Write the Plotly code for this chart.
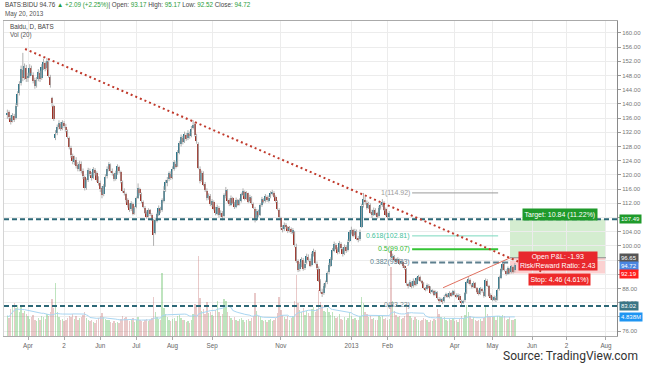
import plotly.graph_objects as go
import pandas as pd

# ---------------- data (daily bars, index 0 = Apr 2 2012) ----------------
first_index = -12
opens = [136.8,137.6,136.0,135.2,136.6,136.0,139.8,143.0,145.9,149.6,147.5,150.2,
 147.2,148.0,150.0,148.2,146.8,145.0,147.0,148.6,147.4,150.2,151.5,150.1,151.8,147.6,
 141.6,139.4,130.4,131.8,133.6,134.4,133.2,134.6,133.6,132.4,130.4,127.6,125.2,
 123.6,124.2,122.8,121.6,123.0,121.2,119.4,116.4,118.6,121.2,120.0,119.2,121.4,120.4,118.8,117.6,116.2,114.6,
 117.0,119.6,121.6,122.8,121.0,120.2,118.9,120.4,122.2,120.8,118.0,115.4,114.6,
 112.8,111.4,110.4,111.8,109.2,111.0,113.6,116.0,114.6,112.4,110.8,109.6,108.4,110.0,108.8,107.2,103.6,107.0,108.8,110.4,
 110.0,112.6,115.8,117.6,118.8,120.2,119.4,121.6,123.2,122.6,126.2,128.6,130.4,129.4,131.2,130.4,131.6,131.0,133.2,
 134.4,131.0,128.8,121.6,118.6,120.4,117.4,115.6,113.6,114.0,111.6,112.4,110.4,109.0,110.8,108.8,109.2,
 108.4,114.0,115.6,112.8,111.6,113.4,112.0,111.0,112.8,111.8,112.6,114.4,115.2,113.4,114.8,112.6,113.6,111.8,110.4,107.4,109.6,108.8,111.4,113.0,112.6,113.8,112.6,113.8,114.6,115.0,113.8,112.4,110.2,
 107.8,105.0,104.8,105.8,105.2,104.4,104.8,103.6,103.8,99.8,95.6,93.4,94.6,96.0,93.8,95.2,97.0,95.8,94.6,97.6,98.4,95.0,93.6,90.0,87.0,86.6,88.6,
 89.8,92.6,94.4,96.4,98.6,100.2,99.0,98.2,100.6,99.2,97.8,99.6,98.8,101.4,103.6,104.4,103.0,104.0,102.2,101.8,105.4,111.4,113.0,
 112.2,110.8,111.6,109.6,108.8,110.0,109.2,108.4,110.6,111.4,112.2,110.4,109.0,108.2,
 98.6,96.6,97.0,96.2,95.6,96.0,95.2,95.4,94.0,93.6,89.2,88.8,89.6,88.6,90.0,89.2,90.6,91.2,90.0,89.4,88.0,87.8,88.8,88.2,87.0,87.2,86.4,86.8,85.0,84.6,84.8,
 84.4,85.8,86.2,85.6,86.6,86.2,87.0,86.2,85.8,86.0,84.4,84.0,84.6,86.8,89.6,90.4,89.0,88.6,89.4,88.0,87.2,86.6,87.8,87.0,86.0,90.2,88.6,86.2,85.4,84.6,85.4,84.8,87.8,91.0,93.2,94.8,93.0,92.2,93.6,92.6,94.0,93.17]
highs = [138.4,138.2,136.8,137.4,137.2,140.2,143.6,146.4,150.8,154.4,151.4,151.0,
 148.8,151.2,150.8,148.9,147.4,147.6,149.8,149.4,151.2,152.8,152.0,153.0,152.4,148.2,
 142.0,139.8,132.6,134.2,135.4,134.9,135.4,135.2,134.4,132.8,130.8,128.2,126.0,
 125.4,125.0,123.6,124.0,123.8,121.8,119.8,119.0,122.0,121.8,120.8,122.2,121.9,121.0,119.6,118.4,116.8,117.4,
 120.2,122.4,123.6,123.2,121.8,120.6,121.2,123.0,122.6,121.2,118.4,116.2,115.0,
 113.4,112.0,112.6,112.2,111.2,113.9,117.6,116.4,115.0,112.8,111.2,110.0,110.6,110.4,109.2,107.6,107.8,109.4,111.4,111.0,
 113.4,116.8,118.6,119.4,121.0,121.0,122.4,124.2,123.8,127.0,129.6,131.4,131.0,132.2,131.8,132.6,132.2,133.8,135.4,
 134.8,131.6,129.2,122.4,121.2,121.0,118.0,116.2,114.8,114.6,113.2,112.8,111.0,111.6,111.2,110.0,109.8,
 114.8,116.6,116.0,113.4,114.2,113.8,112.4,113.6,113.2,113.4,115.0,116.2,115.6,115.4,115.0,114.4,114.0,112.2,111.0,110.4,110.2,112.0,113.8,113.4,114.6,114.2,114.2,115.4,115.8,115.4,114.2,112.8,110.6,
 108.2,105.8,106.6,106.4,105.6,105.6,105.2,105.0,104.2,100.6,96.2,95.4,96.8,96.6,95.6,97.8,97.6,96.4,98.2,99.2,98.8,95.6,94.2,90.6,87.8,89.4,90.2,
 92.8,95.2,96.8,99.4,101.2,100.8,99.6,101.4,101.0,99.6,100.4,100.2,101.8,104.4,105.4,104.8,104.8,104.6,102.8,104.6,111.8,114.92,113.8,
 112.8,112.4,112.0,110.2,110.8,110.6,109.6,111.2,112.2,113.2,112.6,110.8,109.4,109.8,
 99.0,97.8,97.4,96.6,96.8,96.4,96.0,95.8,94.6,93.8,89.6,90.4,90.0,90.8,90.4,91.2,91.8,91.6,90.4,89.8,88.4,89.4,89.2,88.6,87.8,87.6,87.4,87.2,85.6,85.4,85.2,
 86.2,86.8,86.6,87.2,87.0,87.6,87.4,86.6,86.6,86.4,84.8,84.8,87.0,90.2,91.2,90.8,89.4,90.0,89.8,88.4,87.6,88.4,88.2,87.4,90.8,90.6,89.0,86.6,85.8,86.0,85.8,88.0,91.6,93.8,95.5,95.2,93.4,94.2,93.8,94.6,94.4,95.17]
lows = [135.8,135.6,134.2,134.8,134.9,135.6,139.2,142.4,145.2,146.4,146.8,146.2,
 146.2,147.4,147.9,145.8,144.3,144.6,146.4,146.2,146.8,149.6,149.2,149.6,147.4,144.6,
 139.2,135.2,129.8,131.2,132.8,132.4,132.6,133.2,132.0,130.2,127.2,124.8,123.0,
 122.8,121.8,121.0,121.0,120.4,118.8,115.6,115.8,118.0,119.6,118.4,118.8,119.8,118.0,117.0,115.2,113.4,114.0,
 116.6,119.0,121.0,120.6,119.8,118.2,118.4,120.0,120.4,117.6,115.0,114.2,112.2,
 110.8,109.6,109.8,108.6,108.8,110.6,113.2,114.2,112.0,110.6,109.0,107.6,108.0,108.4,107.0,100.0,103.2,106.6,108.4,109.2,
 109.6,112.2,115.2,116.8,118.2,118.6,118.8,121.2,121.8,122.2,125.8,128.0,128.6,129.0,129.6,129.8,130.2,130.6,132.8,
 130.8,128.8,121.6,117.6,118.0,116.8,115.2,112.8,113.0,111.2,111.0,110.0,108.6,108.6,108.0,108.2,107.2,
 108.0,113.4,112.2,111.2,111.2,111.8,110.4,110.6,111.2,111.4,112.2,114.0,112.8,113.0,112.0,112.2,111.6,110.4,106.6,107.0,108.2,108.4,111.0,112.0,112.2,112.4,112.2,113.4,114.2,113.6,112.2,110.0,107.8,
 104.6,103.8,104.2,104.8,103.6,103.8,103.4,103.2,99.6,95.2,92.6,92.8,94.0,93.0,93.2,94.8,95.6,94.0,94.2,97.0,94.8,93.2,89.8,86.6,85.6,86.2,88.2,
 89.2,92.0,94.0,96.0,98.2,98.8,97.6,97.8,99.0,97.0,97.4,98.0,98.4,101.0,103.2,102.4,102.6,101.6,101.0,101.4,105.0,110.8,111.6,
 110.2,110.4,109.0,107.8,108.4,108.6,107.6,108.0,110.2,111.0,109.8,108.4,107.4,107.8,
 96.2,96.2,95.6,95.0,95.2,94.6,94.8,93.8,93.2,88.8,88.0,88.4,88.0,88.2,88.6,88.8,90.2,89.8,89.2,87.8,87.2,87.4,88.0,86.4,86.6,85.8,86.0,84.8,83.8,84.2,83.6,
 84.0,85.4,85.4,85.2,85.6,85.8,86.0,85.2,85.4,84.2,83.23,83.6,84.2,86.4,89.2,88.8,88.0,88.2,88.0,86.6,86.0,86.2,86.8,85.4,85.6,88.4,85.6,84.8,84.4,84.4,84.2,84.6,87.4,90.6,92.8,92.8,91.6,91.8,92.0,92.2,92.2,92.52]
closes = [137.5,136.2,135.0,136.8,135.6,139.5,142.8,145.6,149.8,147.2,150.6,146.9,
 147.8,150.2,148.6,146.5,145.2,146.8,148.9,147.0,150.5,151.8,149.9,152.1,148.0,145.3,
 140.2,135.8,131.5,133.4,134.6,133.0,134.8,133.9,132.6,130.8,127.9,125.6,123.8,
 124.5,122.6,121.8,123.2,121.0,119.8,116.2,118.5,121.4,120.2,119.0,121.6,120.5,118.6,117.8,116.0,114.2,116.8,
 119.5,121.8,123.0,121.2,120.4,118.8,120.6,122.4,121.0,118.2,115.6,114.8,112.9,
 111.5,110.2,112.0,109.1,110.8,113.5,116.2,114.8,112.6,111.0,109.4,108.2,110.1,108.9,107.5,103.2,107.2,108.9,110.6,109.8,
 112.8,115.6,117.9,118.6,120.4,119.2,121.8,123.5,122.2,126.4,128.9,130.6,129.2,131.5,130.2,131.8,130.9,133.0,134.2,
 131.2,129.6,122.0,118.4,120.6,117.2,115.8,113.4,114.2,111.8,112.6,110.5,109.2,111.0,108.6,109.4,108.0,
 114.2,115.8,112.6,111.8,113.6,112.2,110.9,113.0,111.6,112.8,114.6,115.4,113.2,114.9,112.4,113.8,112.0,110.8,107.2,109.8,108.6,111.6,113.2,112.4,114.0,112.8,113.6,114.8,115.2,113.9,112.6,110.4,108.2,
 105.2,104.6,106.0,105.4,104.2,105.0,103.8,104.6,100.2,95.8,93.2,94.8,96.2,93.6,95.0,97.2,96.0,94.4,97.8,98.6,95.2,93.8,90.2,87.2,86.4,88.8,89.6,
 92.4,94.6,96.2,98.8,100.4,99.2,98.0,100.8,99.4,97.6,99.8,98.6,101.2,103.8,104.6,102.8,104.2,102.0,101.6,104.0,111.2,113.2,112.4,
 110.6,111.8,109.4,108.6,110.2,109.0,108.2,110.8,111.6,112.4,110.2,108.8,108.0,109.2,
 96.8,97.2,96.0,95.4,96.2,95.0,95.6,94.2,93.8,89.4,88.6,89.8,88.4,90.2,89.0,90.8,91.4,90.2,89.6,88.2,87.6,89.0,88.4,86.8,87.4,86.2,87.0,85.2,84.4,85.0,84.2,
 85.6,86.4,85.8,86.8,86.0,87.2,86.4,85.6,86.2,84.6,83.8,84.4,86.6,89.8,90.6,89.2,88.4,89.6,88.2,87.0,86.4,88.0,87.2,85.8,90.4,88.8,86.0,85.2,84.8,85.6,84.6,87.6,91.2,93.4,95.0,93.2,92.0,93.8,92.4,94.2,92.63,94.72]
volumes_m = [5.2,4.6,6.8,7.8,8.4,7.2,8.0,6.2,7.4,5.8,6.4,5.6,
 5.0,4.4,4.8,5.4,4.2,3.8,4.6,4.0,5.2,4.8,4.4,5.6,5.2,6.0,
 9.4,7.2,13.5,6.0,4.8,4.2,4.4,3.8,4.0,4.6,5.0,4.8,5.6,
 4.4,5.2,4.0,4.6,4.8,5.4,6.0,4.6,4.2,3.8,4.0,3.6,3.4,4.2,4.6,5.0,5.8,4.8,
 4.4,4.0,4.2,3.6,3.4,3.8,3.2,3.6,3.4,4.4,5.0,4.6,4.8,
 4.2,3.8,4.0,4.6,3.6,4.0,4.8,4.2,3.8,3.6,4.0,4.4,3.8,4.2,4.6,10.0,6.2,4.8,4.4,4.0,
 16.0,7.2,5.6,4.8,4.2,3.8,4.4,4.6,3.8,5.0,5.4,4.6,4.0,4.2,3.6,3.8,3.4,4.2,5.6,
 8.2,7.4,20.4,9.8,6.4,6.8,5.6,8.6,5.8,6.2,5.4,5.0,6.6,9.0,6.0,5.2,5.6,
 9.5,8.8,6.2,5.0,4.6,4.2,4.8,4.0,3.8,4.4,4.6,4.2,3.6,4.0,4.4,3.8,4.6,5.2,11.0,6.4,5.2,4.8,4.0,3.8,4.2,3.6,4.0,4.4,3.8,4.2,4.6,5.8,10.0,
 6.6,5.4,4.8,4.4,5.0,4.2,4.6,5.2,9.0,15.5,8.4,6.6,6.0,7.2,5.4,6.4,5.8,5.2,6.8,7.4,6.2,7.0,11.7,8.6,7.8,6.4,6.0,
 7.2,6.0,5.4,6.2,5.0,4.6,4.8,5.6,4.4,4.2,4.8,4.0,4.6,5.8,5.2,4.4,4.6,4.0,4.2,5.0,10.0,8.4,6.2,
 5.6,4.8,5.2,4.4,4.6,4.2,4.0,5.4,4.8,5.2,4.4,4.6,4.0,4.4,
 17.6,8.8,6.4,5.4,4.8,5.0,4.4,4.6,5.2,8.0,6.2,5.0,4.6,4.2,4.8,4.4,4.0,3.8,4.2,4.6,4.4,4.0,3.6,4.2,3.8,4.4,4.0,7.0,5.6,4.8,4.4,
 4.8,4.2,3.8,4.4,4.0,4.6,3.8,4.2,3.6,4.4,5.2,4.6,5.4,8.0,6.2,5.0,4.4,4.8,4.2,3.8,4.0,4.4,3.8,4.6,8.0,5.6,5.2,4.8,4.8,5.0,4.2,5.0,5.2,4.8,5.4,5.0,4.2,4.4,4.8,4.2,4.0,4.4]

tick_positions = [0, 21, 42, 63, 84, 107, 147, 188, 209, 248, 270, 293, 313, 336]
tick_labels = ["Apr", "2", "Jun", "Jul", "Aug", "Sep", "Nov", "2013", "Feb", "Apr", "May", "Jun", "2", "Aug"]
price_ticks = list(range(76, 161, 4))
hidden_price_labels = [108, 96, 92, 80]   # covered by the coloured price tags in the original

fib_ratios = ["1", "0.618", "0.5", "0.382", "0"]
fib_values = [114.92, 102.81, 99.07, 95.33, 83.23]
fib_colors = ["#9a9a9a", "#7ad8bd", "#35c435", "#5d7f8e", "#7a8a90"]
fib_start, fib_end = 223.3, 273.3

h_levels = [107.49, 83.02]
entry_price, target_price, stop_price = 96.65, 107.49, 92.19
position_start, position_end = 280.2, 336.0
trend_x = [-1.7, 300.0]
trend_y = [155.5, 92.45]
rise_x = [241.3, 280.2]
rise_y = [88.2, 96.6]
last_close = 94.72
vol_ma_value = 4.838

# ---------------- build ----------------
n = len(closes)
idx = list(range(first_index, first_index + n))
up = [c >= o for o, c in zip(opens, closes)]
UP_C, DN_C = "#2b7489", "#9e2f24"

fig = go.Figure()

vol_colors = ["rgba(110,195,110,0.45)" if u else "rgba(200,120,120,0.40)" for u in up]
fig.add_trace(go.Bar(x=idx, y=volumes_m, marker=dict(color=vol_colors, line=dict(width=0)),
                     width=0.8, yaxis="y", hoverinfo="skip"))
vol_ma = pd.Series(volumes_m).rolling(20, min_periods=1).mean()
fig.add_trace(go.Scatter(x=idx, y=vol_ma, mode="lines", line=dict(color="#a9d6f2", width=1),
                         yaxis="y", hoverinfo="skip"))

wx, wy = [], []
for i, h, l in zip(idx, highs, lows):
    wx += [i, i, None]
    wy += [l, h, None]
fig.add_trace(go.Scatter(x=wx, y=wy, mode="lines", line=dict(color="#b0b0b0", width=1),
                         yaxis="y2", hoverinfo="skip"))
body_base = [min(o, c) for o, c in zip(opens, closes)]
body_h = [max(abs(c - o), 0.25) for o, c in zip(opens, closes)]
fig.add_trace(go.Bar(x=idx, y=body_h, base=body_base,
                     marker=dict(color=[UP_C if u else DN_C for u in up], line=dict(width=0)),
                     width=0.95, yaxis="y2", hoverinfo="skip"))

shapes = []
# position boxes
shapes.append(dict(type="rect", xref="x", yref="y2", x0=position_start, x1=position_end,
                   y0=entry_price, y1=target_price, fillcolor="rgba(120,200,110,0.32)",
                   line=dict(width=0), layer="below"))
shapes.append(dict(type="rect", xref="x", yref="y2", x0=position_start, x1=position_end,
                   y0=stop_price, y1=entry_price, fillcolor="rgba(245,140,140,0.40)",
                   line=dict(width=0), layer="below"))
shapes.append(dict(type="line", xref="x", yref="y2", x0=position_start, x1=position_end,
                   y0=entry_price, y1=entry_price, line=dict(color="#8c8c8c", width=1)))
# fib
for r, v, col in zip(fib_ratios, fib_values, fib_colors):
    if r == "0":
        continue
    dash = "6px,3px" if r == "0.382" else "solid"
    w = 2 if r in ("0.5", "0.382") else 1
    x1 = 280.0 if r == "0.382" else fib_end
    shapes.append(dict(type="line", xref="x", yref="y2", x0=fib_start, x1=x1, y0=v, y1=v,
                       line=dict(color=col, width=w, dash=dash)))
# horizontal dashed levels
for lv in h_levels:
    shapes.append(dict(type="line", xref="x", yref="y2", x0=-13.95, x1=342.4, y0=lv, y1=lv,
                       line=dict(color="#2d6877", width=2, dash="5px,3px")))
# trendlines
shapes.append(dict(type="line", xref="x", yref="y2", x0=trend_x[0], x1=trend_x[1],
                   y0=trend_y[0], y1=trend_y[1], line=dict(color="#c0392b", width=2, dash="2px,3px")))
shapes.append(dict(type="line", xref="x", yref="y2", x0=rise_x[0], x1=rise_x[1],
                   y0=rise_y[0], y1=rise_y[1], line=dict(color="#e0705f", width=1)))

ann = []
F = "Liberation Sans, Arial, sans-serif"
for r, v, col in zip(fib_ratios, fib_values, fib_colors):
    tc = {"#7ad8bd": "#45c29c", "#35c435": "#33b833"}.get(col, col)
    ann.append(dict(x=fib_start, y=v, xref="x", yref="y2", text=f"{r}({v:.2f})", showarrow=False,
                    xanchor="right", yanchor="middle", font=dict(size=7, color=tc, family=F)))

ann.append(dict(x=309.3, y=108.84, xref="x", yref="y2", text="Target: 10.84 (11.22%)", showarrow=False,
                bgcolor="#1f9a2b", font=dict(size=7, color="white", family=F), borderpad=1.5))
ann.append(dict(x=308.1, y=95.6, xref="x", yref="y2",
                text="Open P&L: -1.93<br>Risk/Reward Ratio: 2.43", showarrow=False,
                bgcolor="#e8282d", font=dict(size=7, color="white", family=F), borderpad=1))
ann.append(dict(x=308.7, y=90.52, xref="x", yref="y2", text="Stop: 4.46 (4.61%)", showarrow=False,
                bgcolor="#ee2a2a", font=dict(size=7, color="white", family=F), borderpad=1.5))

# right axis price labels
right_labels = [(target_price, "y2", "#1f9a2b", f"{target_price:.2f}", 0),
                (entry_price, "y2", "#555555", f"{entry_price:.2f}", 0),
                (last_close, "y2", "#4a86e0", f"{last_close:.2f}", 1.5),
                (stop_price, "y2", "#ff1f1f", f"{stop_price:.2f}", 0),
                (h_levels[1], "y2", "#3a7686", f"{h_levels[1]:.2f}", 0),
                (vol_ma_value, "y", "#1f95f2", f"{vol_ma_value:.3f}M", 0)]
for v, yr, col, txt, sh in right_labels:
    ann.append(dict(x=1.0, y=v, xref="paper", yref=yr, text=txt, showarrow=False, xanchor="left",
                    yanchor="middle", xshift=2, yshift=-sh, bgcolor=col, borderpad=1,
                    font=dict(size=6, color="white", family=F)))

G = "#2a9d3a"
header = (f"BATS:BIDU 94.76 <span style='color:{G}'>▲ +2.09 (+2.25%)</span>| Open: "
          f"<span style='color:{G}'>93.17</span> High: <span style='color:{G}'>95.17</span> "
          f"Low: <span style='color:{G}'>92.52</span> Close: <span style='color:{G}'>94.72</span>")
ann.append(dict(x=-0.0016, y=1.0508, xref="paper", yref="paper", text=header, showarrow=False,
                xanchor="left", yanchor="middle", font=dict(size=6.3, color="#444", family=F)))
ann.append(dict(x=-0.0016, y=1.0222, xref="paper", yref="paper", text="May 20, 2013", showarrow=False,
                xanchor="left", yanchor="middle", font=dict(size=6.3, color="#555", family=F)))
ann.append(dict(x=0.0065, y=0.984, xref="paper", yref="paper", text="Baidu, D, BATS", showarrow=False,
                xanchor="left", yanchor="middle", font=dict(size=6.3, color="#444", family=F)))
ann.append(dict(x=0.0065, y=0.9556, xref="paper", yref="paper", text="Vol (20)", showarrow=False,
                xanchor="left", yanchor="middle", font=dict(size=6.3, color="#555", family=F)))
ann.append(dict(x=1.0375, y=-0.0635, xref="paper", yref="paper",
                text="Source: TradingView.com", showarrow=False, xanchor="right", yanchor="middle",
                font=dict(size=12, color="#333", family="Roboto, sans-serif")))

price_tick_text = ["" if v in hidden_price_labels else f"{v:.2f}" for v in price_ticks]

fig.update_layout(
    width=645, height=368, margin=dict(l=4, r=28, t=21, b=32, autoexpand=False),
    paper_bgcolor="white", plot_bgcolor="white", showlegend=False,
    barmode="overlay", bargap=0, shapes=shapes, annotations=ann,
    xaxis=dict(range=[-13.95, 342.4], tickvals=tick_positions, ticktext=tick_labels,
               showgrid=True, gridcolor="#ececec", gridwidth=1, zeroline=False,
               tickfont=dict(size=6.3, color="#666", family=F), ticks="outside", ticklen=3,
               tickcolor="#aaa", showline=True, linecolor="#aaa", mirror=True),
    yaxis=dict(range=[0, 80.2], showticklabels=False, showgrid=False, zeroline=False,
               showline=True, linecolor="#d4d4d4", ticks=""),
    yaxis2=dict(range=[74.59, 163.38], overlaying="y", side="right", tickvals=price_ticks,
                ticktext=price_tick_text, showgrid=True, gridcolor="#ececec",
                zeroline=False, tickfont=dict(size=6, color="#777", family=F), ticks="outside",
                ticklen=3, tickcolor="#999", showline=True, linecolor="#8a8a8a"),
)

fig.write_html("out.html", config={"displayModeBar": False},
               post_script="document.body.style.margin='0';document.body.style.padding='0';")
